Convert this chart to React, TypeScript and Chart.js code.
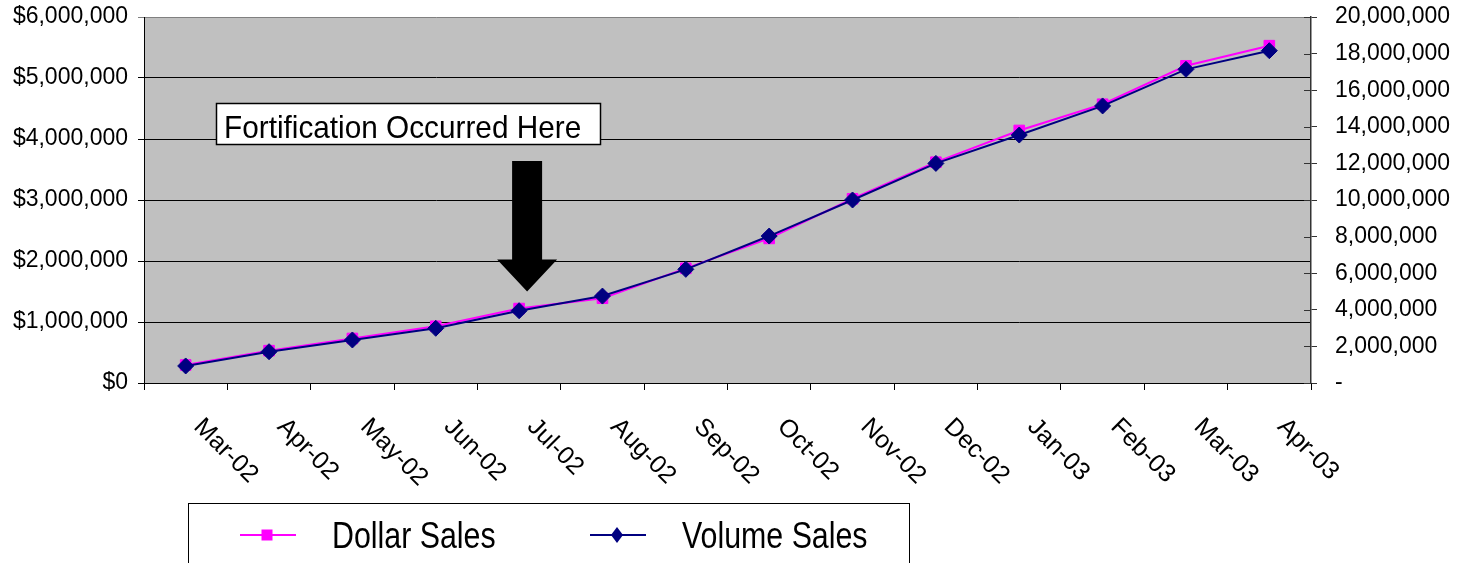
import React, { useEffect, useRef } from 'react';
import { Chart, registerables } from 'chart.js';

Chart.register(...registerables);

const months = ['Mar-02', 'Apr-02', 'May-02', 'Jun-02', 'Jul-02', 'Aug-02', 'Sep-02', 'Oct-02', 'Nov-02', 'Dec-02', 'Jan-03', 'Feb-03', 'Mar-03', 'Apr-03'];
const dollarSales = [295000, 530000, 730000, 930000, 1220000, 1390000, 1880000, 2370000, 3020000, 3620000, 4140000, 4570000, 5200000, 5530000];
const volumeSales = [930000, 1710000, 2350000, 2990000, 3950000, 4750000, 6210000, 8030000, 10000000, 12000000, 13550000, 15140000, 17140000, 18160000];
const dollarLabel = 'Dollar Sales';
const volumeLabel = 'Volume Sales';
const annotationText = 'Fortification Occurred Here';
const arrowMonthIndex = 4;
const arrowTipValue = 1500000;

const FONT = "'Liberation Sans', Arial, sans-serif";

export default function App() {
  const ref = useRef<HTMLCanvasElement>(null);

  useEffect(() => {
    const canvas = ref.current;
    if (!canvas) return;

    const custom = {
      id: 'custom',
      beforeDraw(chart: any) {
        const { ctx, chartArea: a } = chart;
        ctx.save();
        ctx.fillStyle = '#C0C0C0';
        ctx.fillRect(a.left, a.top, a.right - a.left, a.bottom - a.top);
        ctx.restore();
      },
      afterDraw(chart: any) {
        const { ctx, chartArea: a, scales } = chart;
        const xs = scales.x;
        const ys = scales.y;
        const y2 = scales.y2;
        ctx.save();

        // x labels rotated clockwise 45deg
        ctx.fillStyle = '#000';
        ctx.font = `25px ${FONT}`;
        ctx.textAlign = 'left';
        ctx.textBaseline = 'middle';
        months.forEach((m, i) => {
          const cx = xs.getPixelForValue(i);
          ctx.save();
          ctx.translate(cx + 12, a.bottom + 40);
          ctx.rotate(Math.PI / 4);
          ctx.fillText(m, 0, 0);
          ctx.restore();
        });

        // right axis inward tick parts
        ctx.strokeStyle = '#333';
        ctx.lineWidth = 1;
        y2.ticks.forEach((t: any) => {
          const py = Math.round(y2.getPixelForValue(t.value)) + 0.5;
          ctx.beginPath();
          ctx.moveTo(a.right - 7, py);
          ctx.lineTo(a.right, py);
          ctx.stroke();
        });

        // arrow
        const tipX = xs.getPixelForValue(arrowMonthIndex) + 8;
        const tipY = ys.getPixelForValue(arrowTipValue);
        ctx.fillStyle = '#000';
        ctx.beginPath();
        ctx.moveTo(tipX - 15, 161);
        ctx.lineTo(tipX + 15, 161);
        ctx.lineTo(tipX + 15, tipY - 32);
        ctx.lineTo(tipX + 30, tipY - 32);
        ctx.lineTo(tipX, tipY);
        ctx.lineTo(tipX - 30, tipY - 32);
        ctx.lineTo(tipX - 15, tipY - 32);
        ctx.closePath();
        ctx.fill();

        // annotation box
        ctx.fillStyle = '#fff';
        ctx.fillRect(216, 103, 384, 41);
        ctx.strokeStyle = '#000';
        ctx.lineWidth = 1.5;
        ctx.strokeRect(216.5, 103.5, 384, 41);
        ctx.fillStyle = '#000';
        ctx.font = `32px ${FONT}`;
        ctx.textBaseline = 'alphabetic';
        ctx.save();
        ctx.translate(224, 138);
        ctx.scale(0.93, 1);
        ctx.fillText(annotationText, 0, 0);
        ctx.restore();

        // legend
        ctx.strokeStyle = '#000';
        ctx.lineWidth = 1;
        ctx.strokeRect(188.5, 503.5, 721, 120);
        const ly = 535;
        const items = [
          { label: dollarLabel, color: '#FF00FF', style: 'rect', x0: 240 },
          { label: volumeLabel, color: '#000080', style: 'diamond', x0: 590 },
        ];
        items.forEach((it) => {
          ctx.strokeStyle = it.color;
          ctx.fillStyle = it.color;
          ctx.lineWidth = 2;
          ctx.beginPath();
          ctx.moveTo(it.x0, ly);
          ctx.lineTo(it.x0 + 56, ly);
          ctx.stroke();
          const mx = it.x0 + 27;
          if (it.style === 'rect') {
            ctx.fillRect(mx - 5.5, ly - 5.5, 11, 11);
          } else {
            ctx.beginPath();
            ctx.moveTo(mx, ly - 8);
            ctx.lineTo(mx + 6, ly);
            ctx.lineTo(mx, ly + 8);
            ctx.lineTo(mx - 6, ly);
            ctx.closePath();
            ctx.fill();
          }
          ctx.fillStyle = '#000';
          ctx.font = `37px ${FONT}`;
          ctx.textAlign = 'left';
          ctx.textBaseline = 'alphabetic';
          ctx.save();
          ctx.translate(it.x0 + 92, ly + 13);
          ctx.scale(0.82, 1);
          ctx.fillText(it.label, 0, 0);
          ctx.restore();
        });

        ctx.restore();
      },
    };

    const chart = new Chart(canvas, {
      type: 'line',
      data: {
        labels: months,
        datasets: [
          {
            label: dollarLabel,
            data: dollarSales,
            yAxisID: 'y',
            borderColor: '#FF00FF',
            backgroundColor: '#FF00FF',
            pointStyle: 'rect',
            pointRadius: 7.5,
            pointBorderWidth: 1,
            borderWidth: 2,
            order: 1,
          },
          {
            label: volumeLabel,
            data: volumeSales,
            yAxisID: 'y2',
            borderColor: '#000080',
            backgroundColor: '#000080',
            pointStyle: 'rectRot',
            pointRadius: 8,
            pointBorderWidth: 1,
            borderWidth: 2,
            order: 0,
          },
        ],
      },
      options: {
        animation: false,
        responsive: false,
        maintainAspectRatio: false,
        layout: { padding: { left: 0, right: 0, top: 17, bottom: 0 } },
        plugins: { legend: { display: false }, tooltip: { enabled: false } },
        scales: {
          x: {
            offset: true,
            grid: { offset: true, drawOnChartArea: false, tickLength: 7, color: '#000' },
            border: { color: '#000', width: 1 },
            ticks: { display: false },
            afterFit: (s: any) => { s.height = 180; },
          },
          y: {
            position: 'left',
            min: 0,
            max: 6000000,
            ticks: {
              stepSize: 1000000,
              color: '#000',
              font: { family: FONT, size: 23 },
              padding: 10,
              callback: (v: any) => '$' + Number(v).toLocaleString('en-US'),
            },
            grid: {
              tickLength: 6,
              color: (c: any) => (c.tick && c.tick.value === 6000000 ? '#808080' : '#000'),
            },
            border: { color: '#000', width: 1 },
            afterFit: (s: any) => { s.width = 144; s.paddingTop = 0; s.paddingBottom = 0; },
          },
          y2: {
            position: 'right',
            min: 0,
            max: 20000000,
            ticks: {
              stepSize: 2000000,
              color: '#000',
              font: { family: FONT, size: 23 },
              padding: 18,
              callback: (v: any) => (Number(v) === 0 ? '-' : Number(v).toLocaleString('en-US')),
            },
            grid: { drawOnChartArea: false, tickLength: 6, color: '#333' },
            border: { color: '#333', width: 1.5 },
            afterFit: (s: any) => { s.width = 156; s.paddingTop = 0; s.paddingBottom = 0; },
          },
        },
      },
      plugins: [custom],
    });

    return () => chart.destroy();
  }, []);

  return (
    <div style={{ position: 'fixed', left: 0, top: 0, width: 1467, height: 563, background: '#fff' }}>
      <canvas ref={ref} width={1467} height={563} style={{ display: 'block', width: 1467, height: 563 }} />
    </div>
  );
}
